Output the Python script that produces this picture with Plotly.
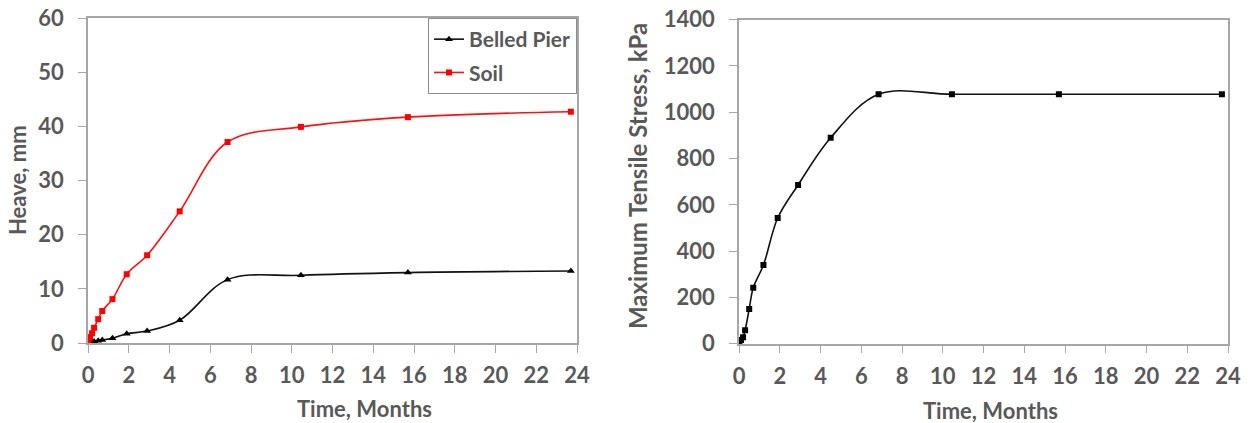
import plotly.graph_objects as go

# Data
time_months = [0, 0.03, 0.1, 0.2, 0.3, 0.5, 0.7, 1.2, 1.9, 2.9, 4.5, 6.85, 10.45, 15.7, 23.7]
heave_soil = [0, 0.5, 1.1, 1.8, 2.8, 4.4, 5.9, 8.1, 12.7, 16.2, 24.3, 37.1, 39.9, 41.7, 42.7]
heave_pier = [0, 0.05, 0.1, 0.2, 0.3, 0.4, 0.55, 0.9, 1.7, 2.2, 4.2, 11.7, 12.5, 13.0, 13.3]
max_stress = [0, 3, 16, 28, 58, 150, 242, 340, 543, 686, 890, 1078, 1078, 1078, 1078]

x_ticks = list(range(0, 25, 2))
heave_ticks = list(range(0, 61, 10))
stress_ticks = list(range(0, 1401, 200))

W, H = 1250, 423
FONT = "Lato"
GREY = "#595959"
AXC = "#A6A6A6"

def px_x(p):
    return p / W

def px_y(p):
    return (H - p) / H

fig = go.Figure()

fig.add_trace(go.Scatter(
    x=time_months, y=heave_pier, name="Belled Pier", mode="lines+markers",
    line=dict(color="#111111", width=1.6, shape="spline", smoothing=1),
    marker=dict(symbol="triangle-up", size=7, color="#000000"),
    xaxis="x", yaxis="y", legendgroup="a"))
fig.add_trace(go.Scatter(
    x=time_months, y=heave_soil, name="Soil", mode="lines+markers",
    line=dict(color="#FF1010", width=1.6, shape="spline", smoothing=1),
    marker=dict(symbol="square", size=6, color="#FF0000"),
    xaxis="x", yaxis="y", legendgroup="b"))
fig.add_trace(go.Scatter(
    x=time_months, y=max_stress, name="Stress", mode="lines+markers",
    line=dict(color="#111111", width=1.6, shape="spline", smoothing=1),
    marker=dict(symbol="square", size=6, color="#000000"),
    xaxis="x2", yaxis="y2", showlegend=False))

FS = 22
tickfont = dict(family=FONT, size=FS, color=GREY, weight="bold")
titlefont = dict(family=FONT, size=FS, color=GREY, weight="bold")

def xax(domain, anchor):
    return dict(domain=domain, anchor=anchor, range=[0, 24], tickvals=x_ticks,
                showline=True, linecolor=AXC, linewidth=1.5, mirror=True,
                ticks="outside", ticklen=8, tickcolor=AXC, tickwidth=1.2,
                showgrid=False, zeroline=False, tickfont=tickfont,
                ticklabelstandoff=4, automargin=False)

def yax(domain, anchor, rng, tv):
    return dict(domain=domain, anchor=anchor, range=rng, tickvals=tv,
                showline=True, linecolor=AXC, linewidth=1.5, mirror=True,
                ticks="outside", ticklen=8, tickcolor=AXC, tickwidth=1.2,
                showgrid=False, zeroline=False, tickfont=tickfont,
                ticklabelstandoff=10, automargin=False)

fig.update_layout(
    width=W, height=H,
    margin=dict(l=0, r=0, t=0, b=0, autoexpand=False),
    paper_bgcolor="white", plot_bgcolor="white",
    xaxis=xax([px_x(88), px_x(577)], "y"),
    yaxis=yax([px_y(343), px_y(18)], "x", [0, 60], heave_ticks),
    xaxis2=xax([px_x(739), px_x(1228)], "y2"),
    yaxis2=yax([px_y(343.7), px_y(19.7)], "x2", [0, 1400], stress_ticks),
    legend=dict(x=px_x(577), xanchor="right", y=px_y(18), yanchor="top",
                bordercolor="#8C8C8C", borderwidth=1, bgcolor="white",
                font=dict(family=FONT, size=21, color=GREY, weight="bold"),
                traceorder="grouped", tracegroupgap=3, itemwidth=30),
    annotations=[
        dict(text="Time, Months", x=px_x(364), y=px_y(408), xref="paper", yref="paper",
             xanchor="center", yanchor="middle", showarrow=False, font=titlefont),
        dict(text="Time, Months", x=px_x(990), y=px_y(410), xref="paper", yref="paper",
             xanchor="center", yanchor="middle", showarrow=False, font=titlefont),
        dict(text="Heave, mm", x=px_x(18), y=px_y(180), xref="paper", yref="paper",
             xanchor="center", yanchor="middle", showarrow=False, textangle=-90, font=titlefont),
        dict(text="Maximum Tensile Stress, kPa", x=px_x(637), y=px_y(176), xref="paper", yref="paper",
             xanchor="center", yanchor="middle", showarrow=False, textangle=-90,
             font=dict(family=FONT, size=24, color=GREY, weight="bold")),
    ],
)

fig.write_html("out.html")
